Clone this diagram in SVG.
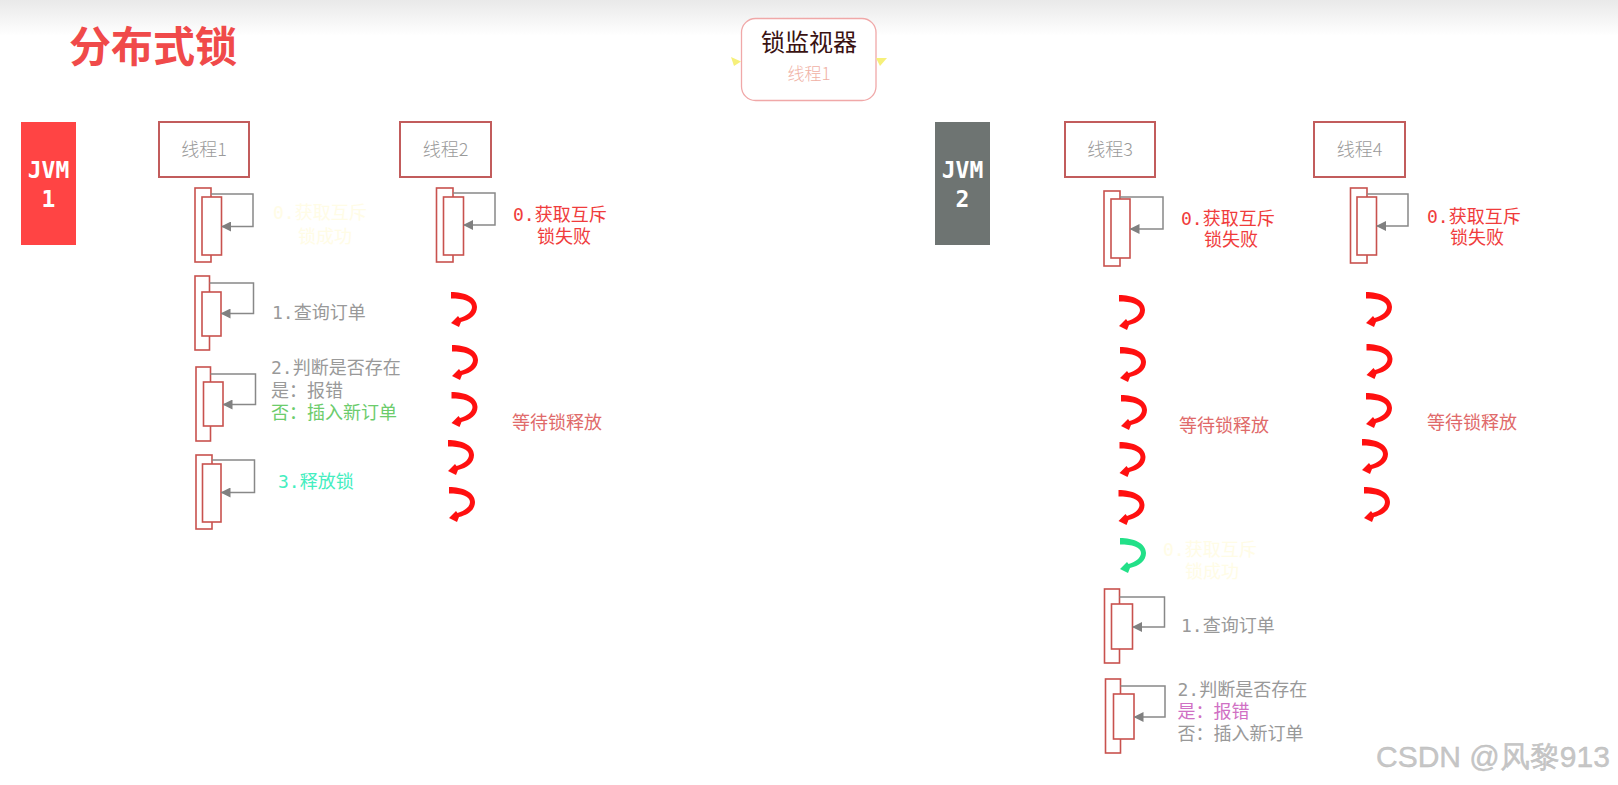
<svg xmlns="http://www.w3.org/2000/svg" width="1618" height="785" viewBox="0 0 1618 785">
<defs>
<linearGradient id="topband" x1="0" y1="0" x2="0" y2="1">
<stop offset="0" stop-color="#e9e9e9"/>
<stop offset="1" stop-color="#ffffff"/>
</linearGradient>
<path id="curl" d="M0,0 C13,0 26,5 26,15 C26,23 19,28 10,30 L8,35 L0,31 L7,24 L8.5,26 C15,24 21,20 21,15 C21,9 12,6.5 0,6.5 Z"/>
<marker id="ah" viewBox="0 0 10 10" refX="9" refY="5" markerWidth="10" markerHeight="10" markerUnits="userSpaceOnUse" orient="auto">
<path d="M0,0 L10,5 L0,10 Z" fill="#808080"/>
</marker>
</defs>
<style>
.thread rect{fill:#ffffff;stroke:#c25c5c;stroke-width:2}
.thread text{font-family:"Noto Sans CJK SC",sans-serif;font-size:18px;fill:#9a9a9a;text-anchor:middle;font-weight:300}
.jvm text{font-family:"DejaVu Sans Mono","Liberation Mono",monospace;font-size:23px;font-weight:bold;fill:#ffffff;text-anchor:middle}
.act{fill:#ffffff;stroke:#c8524e;stroke-width:1.6}
.loop{fill:none;stroke:#888888;stroke-width:1.5;marker-end:url(#ah)}
.lbl{font-family:"DejaVu Sans Mono","Noto Sans CJK SC",monospace;font-size:18px}
.gray{fill:#999999}
.red{fill:#f03c3c}
.faint{fill:#fffce6}
.wait{fill:#e06a6a}
.rc{fill:#ff1010}
.gc{fill:#22e088}
</style>
<rect x="0" y="0" width="1618" height="785" fill="#ffffff"/>
<rect x="0" y="0" width="1618" height="36" fill="url(#topband)"/>
<text x="69" y="62" font-family="Noto Sans CJK SC, sans-serif" font-size="42" font-weight="bold" fill="#f04a4a">分布式锁</text>

<g id="lock-monitor">
<rect x="741.5" y="18.5" width="134.5" height="82" rx="14" fill="#ffffff" stroke="#f0a8a8" stroke-width="1.3"/>
<text x="809" y="51" font-family="Noto Sans CJK SC, sans-serif" font-size="24" fill="#3a1212" text-anchor="middle">锁监视器</text>
<text x="809" y="80" font-family="Noto Sans CJK SC, sans-serif" font-size="17" fill="#f0b0a4" text-anchor="middle" font-weight="300">线程1</text>
<polygon points="731,57 741,61.5 734,66" fill="#f6f07a"/>
<polygon points="876,58 887,58 880,66" fill="#f6f07a"/>
</g>

<g id="jvm1" class="jvm">
<rect x="21" y="122" width="55" height="123" fill="#ff4444"/>
<text x="48.5" y="178">JVM</text>
<text x="48.5" y="207">1</text>
</g>
<g id="jvm2" class="jvm">
<rect x="935" y="122" width="55" height="123" fill="#6e7472"/>
<text x="962.5" y="178">JVM</text>
<text x="962.5" y="207">2</text>
</g>

<g id="thread1" class="thread"><rect x="159" y="122" width="90" height="55"/><text x="204" y="156">线程1</text></g>
<g id="thread2" class="thread"><rect x="400" y="122" width="91" height="55"/><text x="445.5" y="156">线程2</text></g>
<g id="thread3" class="thread"><rect x="1065" y="122" width="90" height="55"/><text x="1110" y="156">线程3</text></g>
<g id="thread4" class="thread"><rect x="1314" y="122" width="91" height="55"/><text x="1359.5" y="156">线程4</text></g>

<g id="t1-step0">
<rect class="act" x="195" y="188" width="16" height="74"/>
<rect class="act" x="202" y="197" width="19.5" height="58"/>
<text class="lbl faint" x="273" y="219">0.获取互斥</text>
<text class="lbl faint" x="298" y="243">锁成功</text>
</g>
<g id="t1-step1">
<rect class="act" x="195" y="276" width="14.5" height="74"/>
<rect class="act" x="202" y="292" width="19" height="44"/>
<text class="lbl gray" x="272" y="319">1.查询订单</text>
</g>
<g id="t1-step2">
<rect class="act" x="196" y="367" width="14.5" height="74"/>
<rect class="act" x="203.5" y="382" width="19.5" height="44"/>
<text class="lbl gray" x="271" y="374">2.判断是否存在</text>
<text class="lbl gray" x="271" y="397">是：报错</text>
<text class="lbl" x="271" y="419" fill="#6ccc6c">否：插入新订单</text>
</g>
<g id="t1-step3">
<rect class="act" x="196" y="455" width="16" height="74"/>
<rect class="act" x="202.5" y="464" width="18.5" height="58"/>
<text class="lbl" x="278" y="488" fill="#44eec0">3.释放锁</text>
</g>

<g id="t2-step0">
<rect class="act" x="436.5" y="188" width="16.5" height="74"/>
<rect class="act" x="443.5" y="197" width="20" height="58"/>
<text class="lbl red" x="513" y="221">0.获取互斥</text>
<text class="lbl red" x="537" y="243">锁失败</text>
</g>
<g id="t2-wait">
<use href="#curl" class="rc" x="451" y="292"/>
<use href="#curl" class="rc" x="452" y="345"/>
<use href="#curl" class="rc" x="451.5" y="392"/>
<use href="#curl" class="rc" x="448" y="440"/>
<use href="#curl" class="rc" x="449" y="487"/>
<text class="lbl wait" x="512" y="429">等待锁释放</text>
</g>

<g id="t3-step0">
<rect class="act" x="1104" y="191" width="16" height="75"/>
<rect class="act" x="1111" y="199" width="19" height="59"/>
<text class="lbl red" x="1181" y="225">0.获取互斥</text>
<text class="lbl red" x="1204" y="246">锁失败</text>
</g>
<g id="t3-wait">
<use href="#curl" class="rc" x="1119" y="295"/>
<use href="#curl" class="rc" x="1120" y="347"/>
<use href="#curl" class="rc" x="1121" y="395"/>
<use href="#curl" class="rc" x="1119.5" y="442"/>
<use href="#curl" class="rc" x="1118.5" y="490"/>
<text class="lbl wait" x="1179" y="432">等待锁释放</text>
</g>
<g id="t3-acquire">
<use href="#curl" class="gc" x="1120" y="538"/>
<text class="lbl faint" x="1163" y="556">0.获取互斥</text>
<text class="lbl faint" x="1185" y="578">锁成功</text>
</g>
<g id="t3-step1">
<rect class="act" x="1104.5" y="589" width="15" height="74"/>
<rect class="act" x="1111.5" y="604" width="21" height="45"/>
<text class="lbl gray" x="1181" y="632">1.查询订单</text>
</g>
<g id="t3-step2">
<rect class="act" x="1105.5" y="679" width="15" height="74"/>
<rect class="act" x="1113.5" y="694" width="20.5" height="45"/>
<text class="lbl gray" x="1177.5" y="696">2.判断是否存在</text>
<text class="lbl" x="1177.5" y="718" fill="#d070c4">是：报错</text>
<text class="lbl gray" x="1177.5" y="740">否：插入新订单</text>
</g>

<g id="t4-step0">
<rect class="act" x="1350.5" y="188" width="16.5" height="75"/>
<rect class="act" x="1357" y="197" width="19.5" height="58"/>
<text class="lbl red" x="1427" y="223">0.获取互斥</text>
<text class="lbl red" x="1450" y="244">锁失败</text>
</g>
<g id="t4-wait">
<use href="#curl" class="rc" x="1366" y="292"/>
<use href="#curl" class="rc" x="1366.5" y="344"/>
<use href="#curl" class="rc" x="1366" y="393"/>
<use href="#curl" class="rc" x="1362" y="439"/>
<use href="#curl" class="rc" x="1364" y="487"/>
<text class="lbl wait" x="1427" y="429">等待锁释放</text>
</g>

<g id="connectors">
<path class="loop" d="M211,194 H253 V226.5 H222"/>
<path class="loop" d="M209.5,283 H253.5 V313.5 H221.5"/>
<path class="loop" d="M210.5,374 H255.5 V404.5 H223.5"/>
<path class="loop" d="M212,460 H254.5 V492.5 H221.5"/>
<path class="loop" d="M453,193 H495 V225 H464"/>
<path class="loop" d="M1120,197 H1163 V229 H1130.5"/>
<path class="loop" d="M1367,194 H1408 V226 H1377"/>
<path class="loop" d="M1119.5,597 H1164.5 V627 H1133"/>
<path class="loop" d="M1120.5,686 H1165 V717 H1134.5"/>
</g>

<text x="1376" y="767" font-family="Liberation Sans, Arial, sans-serif" font-size="30" fill="#c6c6c6" stroke="#bdbdbd" stroke-width="0.4">CSDN @风黎913</text>
</svg>
